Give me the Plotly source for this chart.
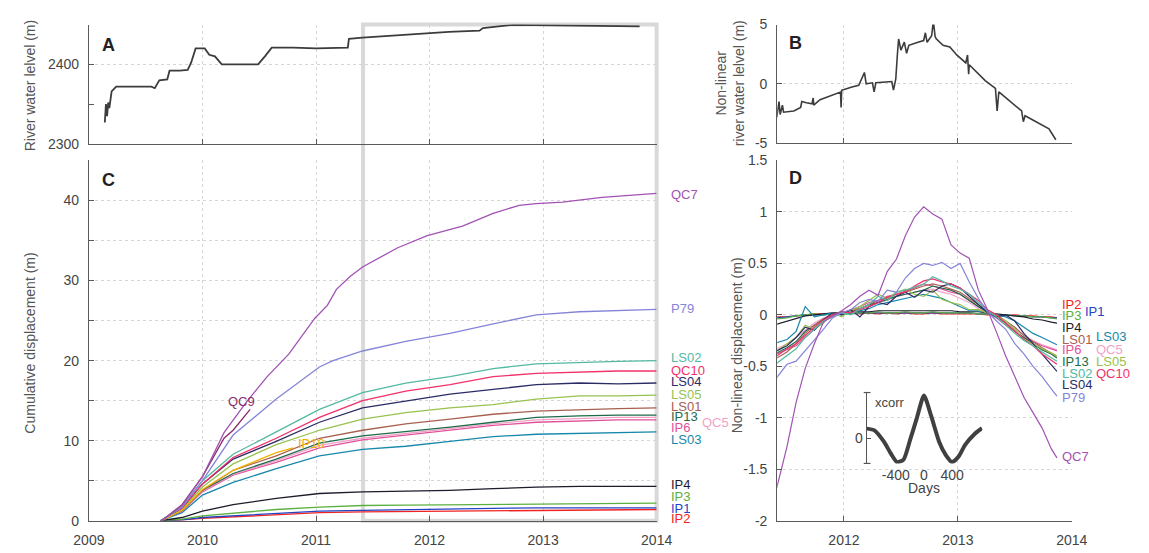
import plotly.graph_objects as go

W, H = 1149, 553
def px(x): return x / W
def py(y): return 1 - y / H

# ---------------- DATA ----------------
# Panel A: river water level
river_t = [2009.14, 2009.15, 2009.16, 2009.17, 2009.18, 2009.20, 2009.24, 2009.40, 2009.55, 2009.58,
           2009.62, 2009.69, 2009.71, 2009.80, 2009.87, 2009.90, 2009.94, 2010.02, 2010.06, 2010.11,
           2010.17, 2010.30, 2010.49, 2010.55, 2010.61, 2010.80, 2011.00, 2011.28, 2011.29, 2011.41,
           2011.70, 2011.98, 2012.17, 2012.44, 2012.47, 2012.74, 2012.93, 2013.31, 2013.60, 2013.85]
river_lvl = [2327, 2350, 2335, 2352, 2345, 2366, 2372, 2372, 2372, 2370,
             2380, 2381, 2392, 2392, 2393, 2402, 2420, 2420, 2412, 2410,
             2400, 2400, 2400, 2410, 2421, 2421, 2420, 2421, 2432, 2433.5,
             2436.5, 2439, 2440.7, 2442.3, 2445.5, 2449.6, 2449.2, 2448.4, 2448, 2447.6]

# Panel B: non-linear river water level
nl_t = [2011.41, 2011.43, 2011.44, 2011.46, 2011.47, 2011.56, 2011.62, 2011.63, 2011.67, 2011.72,
        2011.73, 2011.735, 2011.79, 2011.90, 2011.97, 2011.975, 2011.98, 2012.07, 2012.13, 2012.18,
        2012.195, 2012.25, 2012.265, 2012.28, 2012.42, 2012.435, 2012.455, 2012.47, 2012.48, 2012.50,
        2012.53, 2012.55, 2012.57, 2012.65, 2012.70, 2012.715, 2012.73, 2012.77, 2012.785, 2012.80,
        2012.81, 2012.87, 2012.93, 2012.99, 2013.07, 2013.085, 2013.095, 2013.10, 2013.24, 2013.33,
        2013.345, 2013.36, 2013.56, 2013.575, 2013.59, 2013.80, 2013.86]
nl_lvl = [-2.84, -1.5, -2.6, -1.8, -2.4, -2.3, -2.0, -1.5, -1.6, -1.7,
          -1.2, -1.8, -1.35, -0.95, -0.7, -2.0, -0.55, -0.27, -0.14, 0.95,
          0.0, 0.08, -0.68, 0.08, 0.19, -0.54, 0.4, 2.57, 3.78, 2.84,
          3.51, 2.57, 3.24, 3.51, 3.65, 4.3, 3.5, 4.05, 5.3, 4.0,
          3.8, 3.24, 3.1, 2.43, 1.76, 2.43, 0.8, 1.6, 0.27, -0.4,
          -2.3, -0.68, -2.3, -3.2, -2.7, -3.8, -4.73]

# Panel C: cumulative displacement
t_c = [2009.63, 2009.82, 2010.00, 2010.27, 2010.65, 2011.03, 2011.41, 2011.79,
       2012.18, 2012.56, 2012.94, 2013.32, 2013.66, 2014.00]
cum_LS02 = [0, 1.7, 5.0, 8.3, 11.1, 13.9, 16.0, 17.2, 18.0, 19.0, 19.6, 19.8, 19.9, 20.0]
cum_QC10 = [0, 1.6, 4.6, 7.9, 10.3, 12.9, 15.0, 16.2, 17.0, 18.0, 18.4, 18.6, 18.7, 18.7]
cum_LS04 = [0, 1.6, 4.6, 7.7, 9.9, 12.3, 14.1, 14.9, 15.8, 16.4, 17.0, 17.2, 17.1, 17.2]
cum_LS05 = [0, 1.4, 4.2, 7.1, 9.5, 11.3, 12.7, 13.5, 14.1, 14.5, 15.2, 15.6, 15.6, 15.7]
cum_LS01 = [0, 1.3, 3.8, 6.3, 8.1, 10.3, 11.3, 12.1, 12.7, 13.3, 13.7, 13.9, 14.0, 14.1]
cum_IP13 = [0, 1.3, 3.8, 5.9, 7.7, 9.7, 10.6, 11.1, 11.7, 12.3, 12.9, 13.1, 13.2, 13.2]
cum_QC5 = [0, 1.3, 3.7, 5.8, 7.5, 9.4, 10.3, 10.9, 11.5, 12.1, 12.6, 12.8, 12.9, 12.9]
cum_IP6 = [0, 1.2, 3.6, 5.7, 7.3, 9.1, 10.1, 10.7, 11.3, 11.9, 12.3, 12.5, 12.6, 12.6]
cum_LS03 = [0, 1.0, 3.2, 4.8, 6.5, 8.1, 8.9, 9.3, 9.9, 10.5, 10.8, 10.9, 11.0, 11.1]
cum_IP4 = [0, 0.4, 1.2, 2.0, 2.8, 3.4, 3.6, 3.7, 3.8, 4.0, 4.2, 4.3, 4.3, 4.3]
cum_IP3 = [0, 0.2, 0.6, 0.9, 1.4, 1.7, 1.9, 1.95, 2.0, 2.05, 2.1, 2.15, 2.2, 2.2]
cum_IP1 = [0, 0.1, 0.4, 0.6, 0.9, 1.2, 1.3, 1.4, 1.5, 1.55, 1.6, 1.6, 1.6, 1.6]
cum_IP2 = [0, 0.1, 0.3, 0.5, 0.8, 1.0, 1.1, 1.15, 1.2, 1.25, 1.3, 1.35, 1.35, 1.4]

t_QC7 = [2009.64, 2009.82, 2010.0, 2010.19, 2010.38, 2010.57, 2010.76, 2010.99, 2011.1, 2011.18,
         2011.3, 2011.41, 2011.72, 2011.98, 2012.29, 2012.56, 2012.79, 2012.94, 2013.17, 2013.52, 2014.0]
cum_QC7 = [0, 1.9, 5.5, 11.0, 14.7, 18.0, 20.8, 25.3, 26.9, 28.9,
           30.5, 31.7, 34.1, 35.6, 36.8, 38.4, 39.4, 39.6, 39.8, 40.4, 40.9]
t_P79 = [2009.64, 2009.82, 2010.0, 2010.27, 2010.65, 2011.03, 2011.15, 2011.41, 2011.79,
         2012.18, 2012.56, 2012.94, 2013.32, 2014.0]
cum_P79 = [0, 1.7, 5.0, 10.7, 15.2, 19.2, 20.0, 21.2, 22.4, 23.4, 24.6, 25.7, 26.1, 26.4]
t_QC9 = [2009.64, 2009.82, 2010.0, 2010.19, 2010.27, 2010.42]
cum_QC9 = [0, 2.0, 5.5, 10.3, 11.3, 13.9]
t_IP10 = [2009.64, 2009.82, 2010.0, 2010.27, 2010.65, 2010.8]
cum_IP10 = [0, 1.3, 3.9, 6.3, 8.5, 9.1]

# Panel D: non-linear displacement
t_d = [2011.41, 2011.50, 2011.58, 2011.66, 2011.74, 2011.82, 2011.90, 2011.98, 2012.06, 2012.14,
       2012.22, 2012.30, 2012.38, 2012.46, 2012.54, 2012.62, 2012.70, 2012.78, 2012.86, 2012.94,
       2013.02, 2013.10, 2013.18, 2013.26, 2013.34, 2013.42, 2013.50, 2013.58, 2013.66, 2013.74,
       2013.82, 2013.87]
nl_QC7 = [-1.68, -1.28, -0.85, -0.52, -0.28, -0.07, -0.01, 0.04, 0.10, 0.18, 0.24, 0.19, 0.42, 0.54,
          0.77, 0.95, 1.05, 0.98, 0.93, 0.68, 0.60, 0.55, 0.24, 0.05, -0.17, -0.40, -0.60, -0.80,
          -0.95, -1.10, -1.30, -1.39]
nl_P79 = [-0.61, -0.48, -0.45, -0.35, -0.25, -0.14, -0.03, 0.02, 0.05, 0.12, 0.15, 0.13, 0.24, 0.22,
          0.36, 0.45, 0.50, 0.48, 0.51, 0.45, 0.50, 0.32, 0.16, 0.03, -0.06, -0.14, -0.28, -0.38,
          -0.50, -0.60, -0.72, -0.79]
nl_LS02 = [-0.47, -0.40, -0.33, -0.22, -0.14, -0.06, -0.02, 0.02, 0.00, 0.06, 0.10, 0.18, 0.14, 0.22,
           0.24, 0.27, 0.30, 0.37, 0.33, 0.28, 0.25, 0.20, 0.12, 0.04, -0.02, -0.10, -0.18, -0.25,
           -0.30, -0.36, -0.42, -0.45]
nl_QC10 = [-0.40, -0.33, -0.28, -0.20, -0.12, -0.05, 0.00, 0.03, 0.02, 0.05, 0.08, 0.12, 0.17, 0.20,
           0.22, 0.28, 0.33, 0.35, 0.32, 0.30, 0.26, 0.20, 0.14, 0.05, 0.00, -0.08, -0.16, -0.24,
           -0.30, -0.38, -0.44, -0.48]
nl_LS04 = [-0.35, -0.30, -0.22, -0.12, -0.15, -0.05, 0.02, 0.00, 0.05, -0.02, 0.08, 0.12, 0.10, 0.18,
           0.22, 0.17, 0.24, 0.22, 0.28, 0.30, 0.26, 0.18, 0.10, 0.02, -0.02, 0.00, -0.06, -0.18,
           -0.28, -0.38, -0.48, -0.55]
nl_LS05 = [-0.35, -0.28, -0.22, -0.10, -0.14, -0.08, 0.02, -0.02, 0.04, 0.08, 0.14, 0.20, 0.16, 0.22,
           0.25, 0.20, 0.18, 0.24, 0.15, 0.12, 0.10, 0.05, 0.05, 0.02, 0.00, -0.06, -0.14, -0.24,
           -0.28, -0.33, -0.37, -0.40]
nl_LS01 = [-0.42, -0.36, -0.28, -0.18, -0.10, -0.04, 0.00, 0.02, 0.04, 0.06, 0.10, 0.14, 0.16, 0.20,
           0.22, 0.25, 0.28, 0.30, 0.28, 0.25, 0.22, 0.16, 0.10, 0.04, 0.00, -0.06, -0.12, -0.20,
           -0.26, -0.32, -0.37, -0.40]
nl_IP13 = [-0.37, -0.32, -0.26, -0.16, -0.10, -0.04, 0.00, 0.03, 0.03, 0.06, 0.10, 0.12, 0.15, 0.18,
           0.20, 0.22, 0.24, 0.28, 0.26, 0.24, 0.20, 0.14, 0.08, 0.03, -0.02, -0.08, -0.16, -0.22,
           -0.28, -0.34, -0.38, -0.42]
nl_IP6 = [-0.38, -0.34, -0.30, -0.22, -0.14, -0.06, -0.02, 0.02, 0.05, 0.08, 0.12, 0.14, 0.18, 0.20,
          0.23, 0.26, 0.30, 0.28, 0.25, 0.22, 0.20, 0.14, 0.08, 0.02, -0.03, -0.10, -0.16, -0.22,
          -0.26, -0.30, -0.33, -0.35]
nl_QC5 = [-0.33, -0.28, -0.22, -0.15, -0.08, -0.03, 0.00, 0.02, 0.04, 0.06, 0.10, 0.12, 0.14, 0.18,
          0.20, 0.22, 0.24, 0.25, 0.22, 0.20, 0.16, 0.12, 0.06, 0.02, -0.02, -0.08, -0.14, -0.20,
          -0.25, -0.29, -0.32, -0.34]
nl_LS03 = [-0.27, -0.24, -0.16, 0.08, -0.02, 0.00, 0.02, 0.00, 0.02, 0.04, 0.06, 0.10, 0.12, 0.14,
           0.16, 0.18, 0.20, 0.18, 0.16, 0.12, 0.08, 0.04, 0.04, 0.02, 0.00, -0.02, -0.06, -0.12,
           -0.18, -0.22, -0.26, -0.29]
nl_IP4 = [-0.09, -0.06, -0.03, -0.01, 0.00, 0.01, 0.02, 0.02, 0.03, 0.03, 0.03, 0.04, 0.04, 0.04,
          0.04, 0.04, 0.04, 0.04, 0.04, 0.04, 0.03, 0.03, 0.03, 0.02, 0.01, 0.00, -0.01, -0.02,
          -0.04, -0.05, -0.07, -0.08]
nl_IP3 = [-0.04, -0.03, -0.01, 0.00, 0.01, 0.00, 0.01, 0.02, 0.01, 0.02, 0.02, 0.03, 0.02, 0.02,
          0.03, 0.02, 0.02, 0.03, 0.02, 0.02, 0.02, 0.02, 0.01, 0.01, 0.00, 0.00, -0.01, -0.01,
          -0.02, -0.02, -0.03, -0.04]
nl_IP1 = [-0.03, -0.02, -0.01, 0.00, 0.00, 0.00, 0.01, 0.01, 0.01, 0.02, 0.02, 0.02, 0.02, 0.02,
          0.02, 0.02, 0.02, 0.02, 0.02, 0.02, 0.02, 0.02, 0.01, 0.01, 0.00, 0.00, -0.01, -0.01,
          -0.02, -0.02, -0.03, -0.03]
nl_IP2 = [-0.02, -0.02, -0.01, 0.00, 0.01, 0.01, 0.00, 0.01, 0.02, 0.01, 0.02, 0.01, 0.02, 0.01,
          0.02, 0.01, 0.01, 0.02, 0.01, 0.01, 0.01, 0.01, 0.01, 0.00, 0.00, -0.01, 0.00, -0.01,
          -0.01, -0.02, -0.02, -0.03]

# Inset: cross-correlation
xc_lag = [-814, -703, -566, -474, -382, -290, -198, -106, 0, 101, 216, 308, 400, 492, 584, 722, 823]
xc_val = [0.23, 0.19, -0.08, -0.34, -0.55, -0.49, -0.04, 0.45, 1.0, 0.53, -0.08, -0.38, -0.55, -0.42,
          -0.15, 0.11, 0.24]

colors = {
    "QC7": "#a152b3", "P79": "#8585d8", "LS02": "#52b9a2", "QC10": "#f2306a",
    "LS04": "#2b2b66", "LS05": "#98c24f", "LS01": "#a9604f", "IP13": "#1e6b4a",
    "QC5": "#f2a2c8", "IP6": "#e0529c", "LS03": "#1888aa", "IP4": "#1c1c2c",
    "IP3": "#5cb040", "IP1": "#2244c4", "IP2": "#f22222", "QC9": "#8a2a6a", "IP10": "#f2b400",
}

cum_series = [("IP2", cum_IP2), ("IP1", cum_IP1), ("IP3", cum_IP3), ("IP4", cum_IP4),
              ("LS03", cum_LS03), ("IP6", cum_IP6), ("QC5", cum_QC5), ("IP13", cum_IP13),
              ("LS01", cum_LS01), ("LS05", cum_LS05), ("LS04", cum_LS04), ("QC10", cum_QC10),
              ("LS02", cum_LS02)]
nl_series = [("IP2", nl_IP2), ("IP1", nl_IP1), ("IP3", nl_IP3), ("IP4", nl_IP4),
             ("LS03", nl_LS03), ("QC5", nl_QC5), ("IP6", nl_IP6), ("IP13", nl_IP13),
             ("LS01", nl_LS01), ("LS05", nl_LS05), ("LS04", nl_LS04), ("QC10", nl_QC10),
             ("LS02", nl_LS02), ("P79", nl_P79), ("QC7", nl_QC7)]

# ---------------- FIGURE ----------------
fig = go.Figure()

fig.add_trace(go.Scatter(x=river_t, y=river_lvl, mode="lines", xaxis="x", yaxis="y",
                         line=dict(color="#3c3c3c", width=1.8)))
fig.add_trace(go.Scatter(x=nl_t, y=nl_lvl, mode="lines", xaxis="x2", yaxis="y2",
                         line=dict(color="#3c3c3c", width=1.6)))

for name, vals in cum_series:
    fig.add_trace(go.Scatter(x=t_c, y=vals, mode="lines", xaxis="x3", yaxis="y3",
                             line=dict(color=colors[name], width=1.3)))
for name, tt, vals in [("IP10", t_IP10, cum_IP10), ("P79", t_P79, cum_P79),
                       ("QC9", t_QC9, cum_QC9), ("QC7", t_QC7, cum_QC7)]:
    fig.add_trace(go.Scatter(x=tt, y=vals, mode="lines", xaxis="x3", yaxis="y3",
                             line=dict(color=colors[name], width=1.3)))

for name, vals in nl_series:
    fig.add_trace(go.Scatter(x=t_d, y=vals, mode="lines", xaxis="x4", yaxis="y4",
                             line=dict(color=colors[name], width=1.2)))

fig.add_trace(go.Scatter(x=xc_lag, y=xc_val, mode="lines", xaxis="x5", yaxis="y5",
                         line=dict(color="#404040", width=4, shape="spline", smoothing=0.6)))

FONT = "Liberation Sans, Arial, Helvetica, sans-serif"
axcol = "#5a5a5a"
common = dict(showline=True, linecolor=axcol, linewidth=1, ticks="inside", ticklen=5,
              tickcolor=axcol, showgrid=True, gridcolor="#d6d6d6", griddash="3px,3px", gridwidth=1,
              zeroline=False, tickfont=dict(size=14, color="#444", family=FONT),
              ticklabelstandoff=6)

years = [2009, 2010, 2011, 2012, 2013, 2014]
fig.update_layout(
    width=W, height=H, margin=dict(l=0, r=0, t=0, b=0),
    paper_bgcolor="white", plot_bgcolor="rgba(0,0,0,0)", showlegend=False,
    font=dict(family=FONT, size=14, color="#444"),
    xaxis=dict(common, domain=[px(75), px(659)], range=[2009, 2014], tickvals=years,
               showticklabels=False, anchor="y"),
    yaxis=dict(common, domain=[py(140), py(17)], range=[2300, 2450],
               tickvals=[2300, 2400, 2450], ticktext=["2300", "2400", ""], anchor="x",
               minor=dict(tickvals=[2350], ticks="inside", ticklen=5, tickcolor=axcol, showgrid=False)),
    xaxis2=dict(common, domain=[px(783), px(1086)], range=[2011.414, 2014],
                tickvals=[2012, 2013, 2014], showticklabels=False, anchor="y2"),
    yaxis2=dict(common, domain=[py(139), py(17)], range=[-5, 5], tickvals=[-5, 0, 5],
                ticktext=["-5", "0", "5"], anchor="x2"),
    xaxis3=dict(common, domain=[px(75), px(659)], range=[2009, 2014], tickvals=years,
                ticktext=[str(y) for y in years], anchor="y3"),
    yaxis3=dict(common, domain=[py(528), py(157)], range=[0, 45],
                tickvals=list(range(0, 50, 5)),
                ticktext=["0", "", "10", "", "20", "", "30", "", "40", ""], anchor="x3"),
    xaxis4=dict(common, domain=[px(783), px(1086)], range=[2011.414, 2014],
                tickvals=[2012, 2013, 2014], ticktext=["2012", "2013", "2014"], anchor="y4"),
    yaxis4=dict(common, domain=[py(528), py(157)], range=[-2, 1.5],
                tickvals=[-2, -1.5, -1, -0.5, 0, 0.5, 1, 1.5],
                ticktext=["-2", "-1.5", "-1", "-0.5", "0", "0.5", "1", "1.5"], anchor="x4"),
    xaxis5=dict(domain=[px(875), px(994)], range=[-814, 828], tickvals=[-400, 0, 400],
                ticktext=["-400", "0", "400"], showline=False, showgrid=False, zeroline=False,
                ticks="", tickfont=dict(size=14, color="#444", family=FONT), anchor="y5",
                ticklabelstandoff=2),
    yaxis5=dict(domain=[py(469), py(396)], range=[-0.58, 1.07], tickvals=[0], ticktext=["0"],
                showline=True, linecolor="#555", linewidth=1.2, ticks="inside", ticklen=4,
                tickcolor="#555", showgrid=False, zeroline=False,
                tickfont=dict(size=14, color="#444", family=FONT), anchor="x5",
                ticklabelstandoff=0),
)

# grey highlight box across panels A and C
fig.add_shape(type="rect", xref="paper", yref="paper", x0=px(357), x1=px(659), y0=py(528), y1=py(17),
              line=dict(color="#d9d9d9", width=4), fillcolor="rgba(0,0,0,0)", layer="between")
# inset axis caps
for yy in (396, 469):
    fig.add_shape(type="line", xref="paper", yref="paper", x0=px(872), x1=px(879), y0=py(yy), y1=py(yy),
                  line=dict(color="#555", width=1.2))

ann = []
def txt(x, y, s, color="#444", size=14, xanchor="left", bold=False, angle=0):
    ann.append(dict(x=px(x), y=py(y), xref="paper", yref="paper", text=("<b>%s</b>" % s) if bold else s,
                    showarrow=False, xanchor=xanchor, yanchor="middle", textangle=angle,
                    font=dict(size=size, color=color, family=FONT)))

# panel letters
txt(86, 38, "A", "#222", 18, bold=True)
txt(793, 36, "B", "#222", 18, bold=True)
txt(86, 177, "C", "#222", 18, bold=True)
txt(793, 175, "D", "#222", 18, bold=True)

# axis titles
txt(14, 80, "River water lelvel (m)", "#555", 14, xanchor="center", angle=-90)
txt(734, 78, "Non-linear<br>river water lelvel (m)", "#555", 14, xanchor="center", angle=-90)
txt(14, 345, "Cumulative displacement (m)", "#555", 14, xanchor="center", angle=-90)
txt(742, 347, "Non-linear displacement (m)", "#555", 14, xanchor="center", angle=-90)

# panel C end labels (pixel positions)
c_labels = [("QC7", 672, 192), ("P79", 672, 309), ("LS02", 672, 360), ("QC10", 672, 373),
            ("LS04", 672, 385), ("LS05", 672, 398), ("LS01", 672, 410), ("IP13", 672, 421),
            ("IP6", 672, 432), ("QC5", 704, 427), ("LS03", 672, 444), ("IP4", 672, 491),
            ("IP3", 672, 503), ("IP1", 672, 515), ("IP2", 672, 526),
            ("QC9", 216, 405), ("IP10", 288, 448)]
for name, x, y in c_labels:
    txt(x, y, name, colors[name], 13)

# panel D end labels
d_labels = [("IP2", 1074, 305), ("IP3", 1074, 317), ("IP1", 1098, 313), ("IP4", 1074, 329),
            ("LS01", 1074, 341), ("LS03", 1109, 338), ("IP6", 1074, 352), ("QC5", 1109, 352),
            ("IP13", 1074, 364), ("LS05", 1109, 364), ("LS02", 1074, 376), ("QC10", 1109, 376),
            ("LS04", 1074, 388), ("P79", 1074, 401), ("QC7", 1074, 462)]
for name, x, y in d_labels:
    txt(x, y, name, colors[name], 13)

# inset labels
txt(882, 406, "xcorr", "#444", 13)
txt(934, 494, "Days", "#444", 14, xanchor="center")

fig.update_layout(annotations=ann)
fig.write_html("out.html")
